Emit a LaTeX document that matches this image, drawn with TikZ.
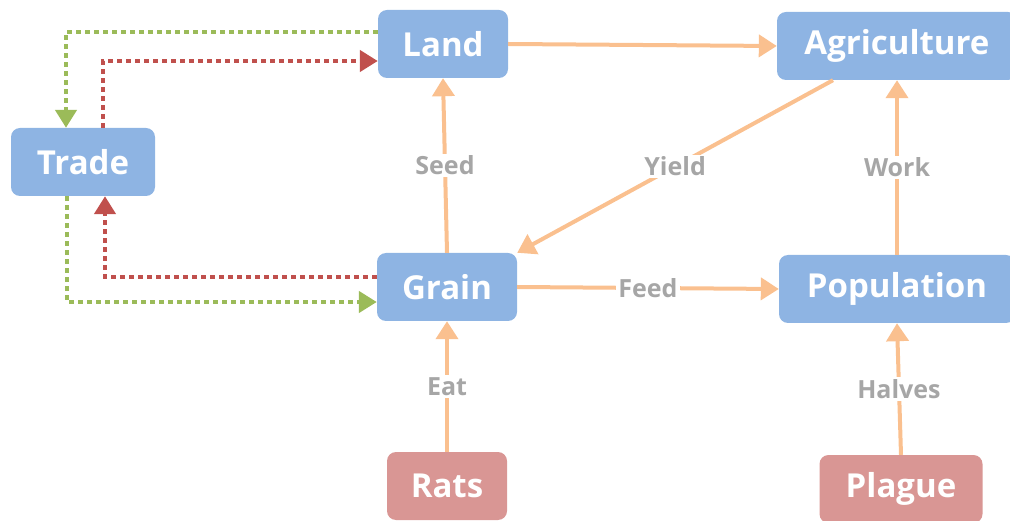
\documentclass[tikz,border=0pt]{standalone}
\usepackage{fontspec}
\setmainfont{Open Sans}
\usepackage{tikz}
\usetikzlibrary{arrows.meta}

\definecolor{boxblue}{HTML}{8EB4E3}
\definecolor{boxred}{HTML}{D99694}
\definecolor{flow}{HTML}{FAC08F}
\definecolor{tradegreen}{HTML}{9BBB59}
\definecolor{tradered}{HTML}{C0504D}
\definecolor{labelgray}{HTML}{A6A6A6}

\begin{document}
\begin{tikzpicture}[x=1pt,y=-1pt,
    box/.style={fill=boxblue, rounded corners=9pt, text=white, inner sep=0pt,
        font=\fontsize{33}{38}\selectfont\bfseries, minimum height=68pt},
    hazard/.style={box, fill=boxred},
    flowline/.style={draw=flow, line width=4pt, -{Triangle[length=18pt,width=22pt]}},
    lbl/.style={fill=white, text=labelgray, inner sep=2pt,
        font=\fontsize{25}{30}\selectfont\bfseries},
    greentrade/.style={draw=tradegreen, line width=4.5pt, dash pattern=on 4.5pt off 4.5pt,
        -{Triangle[length=18pt,width=21pt]}},
    redtrade/.style={greentrade, draw=tradered}]
    \useasboundingbox (0,0) rectangle (1010,521);
    % nodes
    \node[box, minimum width=130pt] (land) at (443,44) {Land};
    \node[box, minimum width=240pt] (agri) at (897,46) {Agriculture};
    \node[box, minimum width=144pt] (trade) at (83,162) {Trade};
    \node[box, minimum width=140pt] (grain) at (447,287) {Grain};
    \node[box, minimum width=236pt] (pop) at (897,289) {Population};
    \node[hazard, minimum width=120pt] (rats) at (447,486) {Rats};
    \node[hazard, minimum width=163pt] (plague) at (901,489) {Plague};
    % main flows
    \draw[flowline] (land.east) -- (agri.west);
    \draw[flowline] (grain.north) -- node[lbl] {Seed} (land.south);
    \draw[flowline] ([xshift=-64pt]agri.south) -- node[lbl] {Yield} (grain.north east);
    \draw[flowline] (pop.north) -- node[lbl] {Work} (agri.south);
    \draw[flowline] (grain.east) -- node[lbl] {Feed} (pop.west);
    \draw[flowline] (rats.north) -- node[lbl] {Eat} (grain.south);
    \draw[flowline] (plague.north) -- node[lbl] {Halves} (pop.south);
    % trade loops
    \draw[greentrade] ([yshift=12pt]land.west) -| ([xshift=-17pt]trade.north);
    \draw[redtrade] ([xshift=20pt]trade.north) |- ([yshift=-17pt]land.west);
    \draw[redtrade] ([yshift=10pt]grain.west) -| ([xshift=22pt]trade.south);
    \draw[greentrade] ([xshift=-16pt]trade.south) |- ([yshift=-15pt]grain.west);
\end{tikzpicture}
\end{document}
